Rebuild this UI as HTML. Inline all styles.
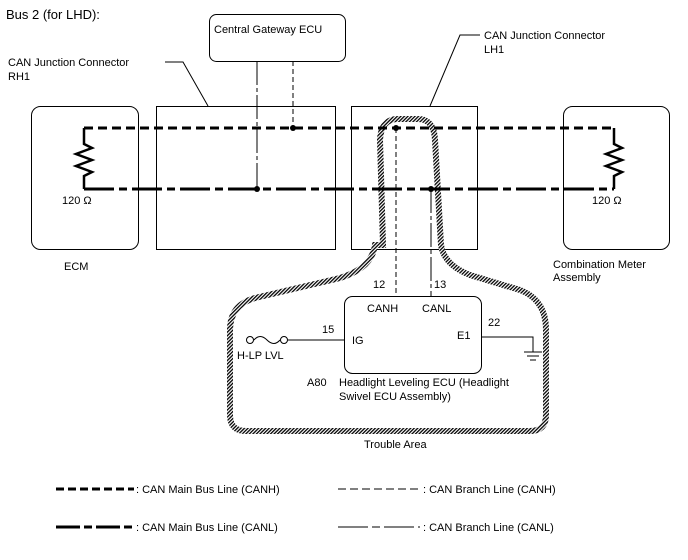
<!DOCTYPE html>
<html><head><meta charset="utf-8"><style>
body{margin:0;background:#fff}
svg{display:block;font-family:"Liberation Sans",sans-serif;font-size:11px}
</style></head><body>
<svg width="688" height="560" viewBox="0 0 688 560" xmlns="http://www.w3.org/2000/svg">
<defs>
<pattern id="h" width="2.5" height="2.5" patternUnits="userSpaceOnUse" patternTransform="rotate(45)">
<rect width="2.5" height="2.5" fill="#fff"/><rect width="1.3" height="2.5" fill="#000"/>
</pattern>
</defs>
<text x="6" y="19" font-size="13">Bus 2 (for LHD):</text>
<!-- boxes -->
<g fill="none" stroke="#000" stroke-width="1">
<rect x="209.5" y="14.5" width="136" height="47" rx="7"/>
<rect x="31.5" y="106.5" width="107" height="143" rx="9"/>
<rect x="156.5" y="106.5" width="179" height="143"/>
<rect x="351.5" y="106.5" width="126" height="143"/>
<rect x="563.5" y="106.5" width="106" height="143" rx="9"/>
<polyline points="165,62 183,62 208,106"/>
<polyline points="480,35 460,35 430,106"/>
</g>
<text x="214" y="33">Central Gateway ECU</text>
<text x="8" y="66">CAN Junction Connector</text>
<text x="8" y="80">RH1</text>
<text x="484" y="39">CAN Junction Connector</text>
<text x="484" y="53">LH1</text>
<!-- trouble area -->
<path d="M383,245 L380,140 Q381,119 398,119 L418,119 Q434,119 435,140 L441,245 Q444,265 470,275 L520,290 Q546,300 546,330 L546,415 Q546,431 530,431 L246,431 Q230,431 230,415 L230,330 Q230,305 255,298 L340,278 Q372,268 375,245 Z" fill="none" stroke="url(#h)" stroke-width="6"/>
<!-- main bus -->
<g fill="none" stroke="#000" stroke-width="3">
<line x1="84" y1="128" x2="614" y2="128" stroke-dasharray="9 5"/>
<line x1="84" y1="189" x2="614" y2="189" stroke-dasharray="30 5 8 5"/>
<polyline points="84,128 84,144 92,148 76,154 92,160 76,166 92,172 84,176 84,189" stroke-width="2.5"/>
<polyline points="614,128 614,144 622,148 606,154 622,160 606,166 622,172 614,176 614,189" stroke-width="2.5"/>
</g>
<g fill="none" stroke="#000" stroke-width="1">
<line x1="257" y1="61" x2="257" y2="189" stroke-dasharray="24 3 4 3"/>
<line x1="293" y1="61" x2="293" y2="128" stroke-dasharray="5 3"/>
<line x1="396" y1="128" x2="396" y2="296" stroke-dasharray="5 3"/>
<line x1="431" y1="189" x2="431" y2="296" stroke-dasharray="24 3 4 3"/>
</g>
<g fill="#000"><circle cx="293" cy="128" r="3"/><circle cx="257" cy="189" r="3"/><circle cx="396" cy="128" r="3"/><circle cx="431" cy="189" r="3"/></g>
<text x="62" y="204">120 Ω</text>
<text x="592" y="204">120 Ω</text>
<text x="64" y="270">ECM</text>
<text x="553" y="268">Combination Meter</text>
<text x="553" y="281">Assembly</text>
<!-- headlight ECU -->
<rect x="344.5" y="296.5" width="137" height="77" rx="8" fill="#fff" stroke="#000"/>
<text x="367" y="312">CANH</text>
<text x="422" y="312">CANL</text>
<text x="373" y="288">12</text>
<text x="434" y="288">13</text>
<text x="352" y="344">IG</text>
<text x="322" y="333">15</text>
<text x="457" y="339">E1</text>
<text x="488" y="326">22</text>
<g fill="none" stroke="#000" stroke-width="1">
<line x1="288" y1="340" x2="344" y2="340"/>
<circle cx="250" cy="340" r="3.5"/><circle cx="284" cy="340" r="3.5"/>
<path d="M254,340 Q260,333 267,340 Q274,347 280,340"/>
<polyline points="481,337 533,337 533,352"/>
<line x1="524" y1="352" x2="542" y2="352"/><line x1="527" y1="356" x2="539" y2="356"/><line x1="530" y1="360" x2="536" y2="360"/>
</g>
<text x="237" y="359">H-LP LVL</text>
<text x="307" y="386">A80</text>
<text x="339" y="386">Headlight Leveling ECU (Headlight</text>
<text x="339" y="400">Swivel ECU Assembly)</text>
<text x="364" y="448">Trouble Area</text>
<!-- legend -->
<g fill="none" stroke="#000">
<line x1="56" y1="489" x2="134" y2="489" stroke-width="3" stroke-dasharray="8 4"/>
<line x1="56" y1="527" x2="134" y2="527" stroke-width="3" stroke-dasharray="24 4 8 4"/>
<line x1="338" y1="489" x2="420" y2="489" stroke-width="1" stroke-dasharray="8 4"/>
<line x1="338" y1="527" x2="420" y2="527" stroke-width="1" stroke-dasharray="30 4 8 4"/>
</g>
<text x="136" y="493">: CAN Main Bus Line (CANH)</text>
<text x="136" y="531">: CAN Main Bus Line (CANL)</text>
<text x="423" y="493">: CAN Branch Line (CANH)</text>
<text x="423" y="531">: CAN Branch Line (CANL)</text>
</svg>
</body></html>
